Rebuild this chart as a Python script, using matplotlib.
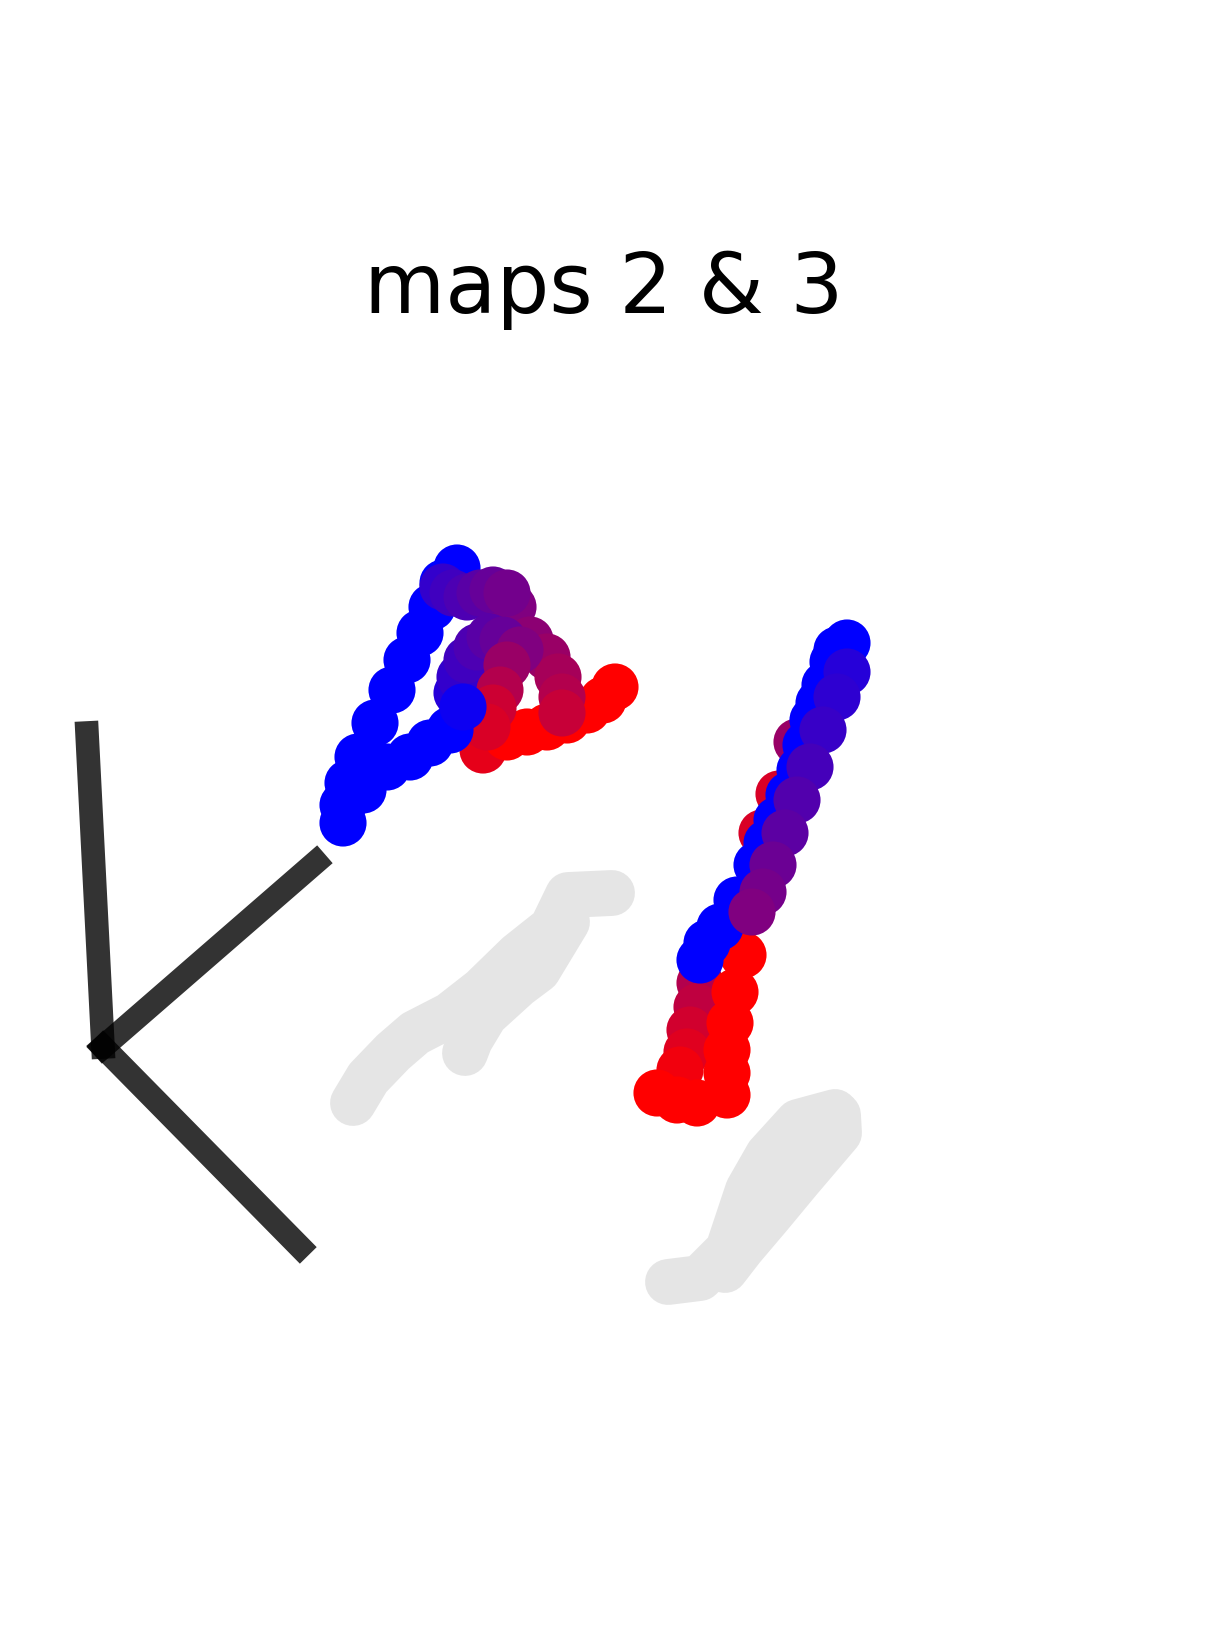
import numpy as np
import matplotlib
matplotlib.use('Agg')
import matplotlib.pyplot as plt

TITLE = 'maps 2 & 3'

# projected positions (pixels) and colour fraction (0 = blue, 1 = red)
map2_x = [483, 507, 527, 547, 567, 587, 603, 615,
          513, 530, 547, 558, 562, 562,
          343, 343, 348, 358, 375, 392, 407, 420, 432, 443, 457,
          443, 453, 467, 480, 493, 507,
          457, 460, 467, 477, 490, 503, 520, 507, 500, 493, 487,
          363, 387, 410, 430, 450, 463]
map2_y = [750, 737, 732, 727, 720, 710, 700, 687,
          607, 640, 657, 677, 697, 713,
          823, 805, 783, 757, 723, 690, 660, 633, 607, 583, 568,
          587, 593, 597, 593, 590, 593,
          693, 677, 660, 647, 637, 640, 650, 665, 690, 708, 727,
          790, 767, 757, 743, 730, 707]
map2_c = [0.9, 1.0, 1.0, 1.0, 1.0, 1.0, 1.0, 1.0,
          0.5, 0.55, 0.6, 0.65, 0.7, 0.78,
          0, 0, 0, 0, 0, 0, 0, 0, 0, 0, 0,
          0.2, 0.25, 0.3, 0.35, 0.4, 0.45,
          0.15, 0.2, 0.25, 0.3, 0.35, 0.4, 0.5, 0.6, 0.7, 0.8, 0.85,
          0, 0, 0, 0, 0, 0.05]

map3_x = [797, 779, 762,
          700, 697, 690, 687, 680, 657, 677, 697,
          743, 735, 730, 727, 727, 727,
          847, 837, 833, 825, 819, 813, 806, 800, 789, 777, 767, 757, 737, 720, 707, 700,
          847, 837, 823, 810, 797, 785, 773, 763, 752]
map3_y = [742, 794, 833,
          983, 1007, 1030, 1052, 1070, 1093, 1100, 1103,
          955, 992, 1023, 1050, 1073, 1095,
          643, 650, 662, 685, 703, 720, 745, 770, 795, 820, 843, 865, 900, 927, 943, 960,
          672, 697, 730, 767, 800, 833, 865, 892, 912]
map3_c = [0.6, 0.85, 0.85,
          0.7, 0.75, 0.82, 0.88, 0.95, 1.0, 1.0, 1.0,
          1.0, 1.0, 1.0, 1.0, 1.0, 1.0,
          0, 0, 0, 0, 0, 0, 0, 0, 0, 0, 0, 0, 0, 0, 0, 0,
          0.15, 0.18, 0.22, 0.27, 0.32, 0.36, 0.42, 0.46, 0.5]

# grey floor shadows (polylines)
shadows = {
    'map2_a': ([612, 568, 552, 518, 482, 450, 415, 393, 368, 353],
               [893, 895, 928, 955, 990, 1015, 1033, 1052, 1078, 1103]),
    'map2_b': ([567, 538, 518, 485, 470, 465],
               [922, 970, 985, 1015, 1040, 1053]),
    'map3_a': ([668, 700, 728, 748, 768, 798, 835],
               [1282, 1278, 1250, 1190, 1155, 1122, 1112]),
    'map3_b': ([725, 742, 770, 799, 839, 838],
               [1270, 1248, 1215, 1180, 1133, 1115]),
    'map3_c': ([735, 770, 805, 830],
               [1250, 1190, 1150, 1125]),
}

# axis indicator arms
origin = (103, 1047)
arm_x = [87, 316, 300]
arm_y = [733, 862, 1247]


def to_rgb(c):
    c = np.asarray(c, dtype=float)
    return np.column_stack([c, np.zeros_like(c), 1 - c])


fig = plt.figure(figsize=(12.07, 16.39), dpi=100)
ax = fig.add_axes([0, 0, 1, 1])
ax.set_xlim(0, 1207)
ax.set_ylim(1639, 0)
ax.axis('off')

for sx, sy in shadows.values():
    ax.plot(sx, sy, color='#e5e5e5', lw=33, solid_capstyle='round',
            solid_joinstyle='round', zorder=1)

for x, y in zip(arm_x, arm_y):
    ax.plot([origin[0], x], [origin[1], y], color='black', alpha=0.8, lw=17,
            solid_capstyle='projecting', zorder=2)

ax.scatter(map2_x, map2_y, s=1150, c=to_rgb(map2_c), linewidths=0, zorder=3)
ax.scatter(map3_x, map3_y, s=1150, c=to_rgb(map3_c), linewidths=0, zorder=3)

ax.text(604, 313, TITLE, fontsize=60, ha='center', va='baseline')

fig.savefig('out.png', dpi=100)
